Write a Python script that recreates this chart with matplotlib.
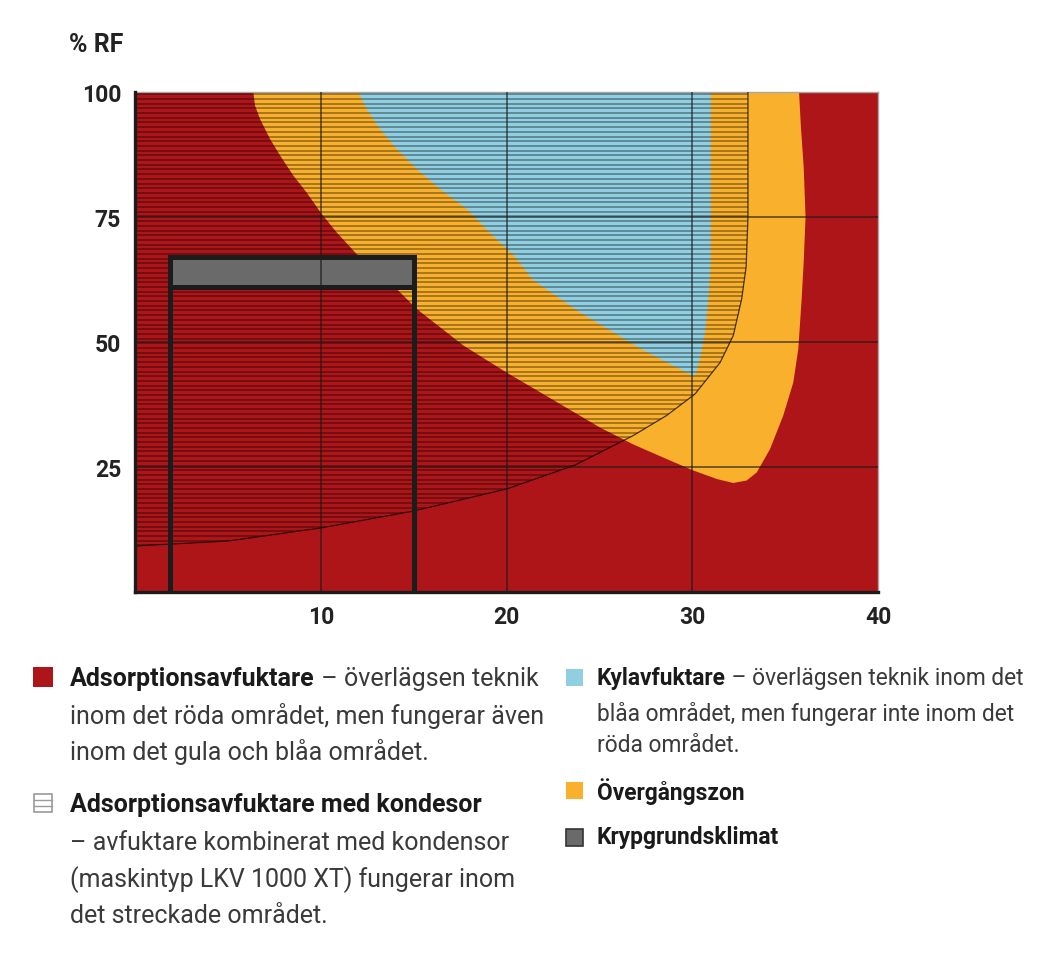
import numpy as np
import matplotlib
matplotlib.use('Agg')
import matplotlib.pyplot as plt
from matplotlib.patches import Polygon, Rectangle

# region boundaries (x = temperature, y = % RF)
yellow_x = [6.37, 6.46, 6.73, 7.27, 7.81, 8.52, 9.24, 10.05, 10.86, 11.93, 14.09, 15.17,
            17.68, 20.0, 22.52, 25.03, 26.83, 28.62, 30.06, 31.32, 32.21, 32.93, 33.47,
            34.19, 34.9, 35.44, 35.71, 35.89, 36.0, 36.1, 36.0, 35.85, 35.75]
yellow_y = [100, 97.3, 94.6, 90.6, 87.3, 83.3, 79.9, 75.6, 71.9, 67.6, 60.6, 56.6,
            49.3, 43.9, 38.4, 32.9, 29.5, 26.6, 24.3, 22.6, 21.8, 22.3, 23.9,
            28.6, 35.3, 41.9, 48.6, 58.6, 66, 75, 85, 93, 100]

blue_x = [12.02, 12.47, 13.19, 14.09, 15.17, 16.42, 17.86, 19.2, 20.4, 21.4, 23.96,
          27.3, 29.16, 30.15, 30.42, 30.69, 30.87, 31.0, 31.0]
blue_y = [100, 96.6, 92.6, 88.6, 84.6, 80.6, 76.6, 71.5, 67.3, 62.5, 55.9,
          48.5, 44.9, 43.1, 46.6, 52, 58.6, 66, 100]

kond_x = [0, 5, 10, 15, 20, 23.7, 25.03, 26.83, 28.62, 30.15, 31.5, 32.21, 32.66, 32.9, 33.0, 33.0]
kond_y = [9.2, 10.2, 12.8, 16.2, 20.6, 25.4, 27.9, 31.3, 35.3, 39.6, 45.9, 51.3, 58.6, 65, 75, 100]

kryp_x = [1.9, 15.0]
kryp_rf = [61, 67]

x_ticks = [10, 20, 30, 40]
y_ticks = [25, 50, 75, 100]

RED = '#ae1519'
YELLOW = '#f9b02c'
BLUE = '#8fcfe1'
GRAY = '#6a6a6a'
INK = '#1c1c1c'

plt.rcParams['font.family'] = ['Roboto', 'DejaVu Sans']

W, H = 1042, 970
fig = plt.figure(figsize=(W / 100, H / 100), dpi=100)
ax = fig.add_axes([135 / W, 1 - 593 / H, (878 - 135) / W, (593 - 93) / H])
ax.set_xlim(0, 40)
ax.set_ylim(0, 100)
ax.set_facecolor(RED)

ax.add_patch(Polygon(np.column_stack([yellow_x, yellow_y]), closed=True,
                     facecolor=YELLOW, edgecolor='none', zorder=1))
ax.add_patch(Polygon(np.column_stack([blue_x, blue_y]), closed=True,
                     facecolor=BLUE, edgecolor='none', zorder=2))

# striped area (kondensor) - horizontal lines clipped to the region
kond_poly = Polygon(np.column_stack([kond_x + [0], kond_y + [100]]), closed=True,
                    facecolor='none', edgecolor='none', zorder=3)
ax.add_patch(kond_poly)
stripes = np.arange(99.55, 0, -0.94)
hl = ax.hlines(stripes, 0, 40, colors='black', linewidth=1.3, alpha=0.36, zorder=3)
hl.set_clip_path(kond_poly)
ax.plot(kond_x, kond_y, color='black', linewidth=0.9, alpha=0.7, zorder=4)

# grid
ax.vlines(x_ticks[:-1], 0, 100, colors='#1a1a1a', linewidth=1.1, alpha=0.75, zorder=5)
ax.hlines(y_ticks[:-1], 0, 40, colors='#1a1a1a', linewidth=1.1, alpha=0.75, zorder=5)

# krypgrundsklimat box
ax.add_patch(Rectangle((kryp_x[0], kryp_rf[0]), kryp_x[1] - kryp_x[0], kryp_rf[1] - kryp_rf[0],
                       facecolor=GRAY, edgecolor='none', zorder=4))
ax.plot([kryp_x[0], kryp_x[0], kryp_x[1], kryp_x[1]], [0, kryp_rf[1], kryp_rf[1], 0],
        color=INK, linewidth=3.6, solid_joinstyle='miter', zorder=6)
ax.plot(kryp_x, [kryp_rf[0], kryp_rf[0]], color=INK, linewidth=3.6, zorder=6)

for s in ['left', 'bottom']:
    ax.spines[s].set_color(INK)
    ax.spines[s].set_linewidth(2.4)
for s in ['top', 'right']:
    ax.spines[s].set_color('#a8a8a8')
    ax.spines[s].set_linewidth(1.0)
ax.spines['left'].set_zorder(7)
ax.spines['bottom'].set_zorder(7)

ax.set_xticks(x_ticks)
ax.set_yticks(y_ticks)
ax.tick_params(length=0, labelsize=16.5, labelcolor='#222222')
ax.tick_params(axis='x', pad=9)
ax.tick_params(axis='y', pad=10)
for lab in ax.get_xticklabels() + ax.get_yticklabels():
    lab.set_fontweight('bold')

fig.text(123 / W, 1 - 45 / H, '% RF', ha='right', va='center',
         fontsize=18, fontweight='bold', color='#222222')

# legend drawn in pixel space
lg = fig.add_axes([0, 0, 1, 1])
lg.set_xlim(0, W)
lg.set_ylim(H, 0)
lg.axis('off')
lg.patch.set_alpha(0)

renderer = fig.canvas.get_renderer()


def line(x, y, bold, rest, size):
    if bold:
        t = lg.text(x, y, bold, fontsize=size, fontweight='bold', color='#1a1a1a',
                    ha='left', va='center')
        bb = t.get_window_extent(renderer)
        x = x + bb.width
    if rest:
        lg.text(x, y, rest, fontsize=size, fontweight='normal', color='#3a3a3a',
                ha='left', va='center')


LS = 18.0
RS = 16.4
lg.add_patch(Rectangle((33, 668), 20, 20, facecolor=RED, edgecolor='none'))
line(70, 679, 'Adsorptionsavfuktare', ' – överlägsen teknik', LS)
line(70, 716, None, 'inom det röda området, men fungerar även', LS)
line(70, 752, None, 'inom det gula och blåa området.', LS)

lg.add_patch(Rectangle((34, 795), 18, 18, facecolor='white', edgecolor='#9a9a9a', linewidth=1.2))
lg.plot([34, 52], [801, 801], color='#9a9a9a', linewidth=1.0)
lg.plot([34, 52], [807, 807], color='#9a9a9a', linewidth=1.0)
line(70, 805, 'Adsorptionsavfuktare med kondesor', None, LS)
line(70, 843, None, '– avfuktare kombinerat med kondensor', LS)
line(70, 880, None, '(maskintyp LKV 1000 XT) fungerar inom', LS)
line(70, 916, None, 'det streckade området.', LS)

lg.add_patch(Rectangle((566, 670), 17, 17, facecolor=BLUE, edgecolor='none'))
line(597, 679, 'Kylavfuktare', ' – överlägsen teknik inom det', RS)
line(597, 714, None, 'blåa området, men fungerar inte inom det', RS)
line(597, 746, None, 'röda området.', RS)

lg.add_patch(Rectangle((566, 783), 17, 17, facecolor=YELLOW, edgecolor='none'))
line(597, 792, 'Övergångszon', None, RS)

lg.add_patch(Rectangle((566, 830), 17, 17, facecolor=GRAY, edgecolor='#333333', linewidth=1.2))
line(597, 838, 'Krypgrundsklimat', None, RS)

fig.savefig('out.png', dpi=100, facecolor='white')
